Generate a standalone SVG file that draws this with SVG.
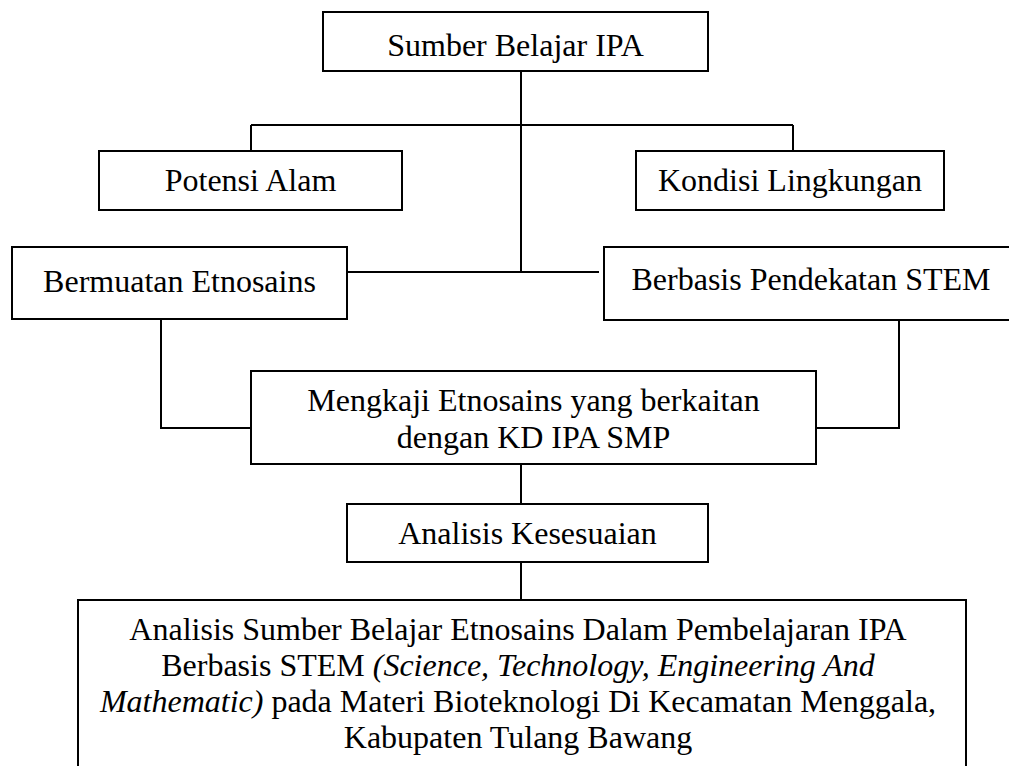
<svg xmlns="http://www.w3.org/2000/svg" width="1009" height="766" viewBox="0 0 1009 766">
<style>
.box{fill:#fff;stroke:#000;stroke-width:2}
.t{font-family:"Liberation Serif","Times New Roman",serif;font-size:32px;fill:#000;text-anchor:middle}
.it{font-style:italic}
.c{fill:none;stroke:#000;stroke-width:2}
</style>
<rect width="1009" height="766" fill="#fff"/>
<g id="connectors">
<line class="c" x1="521" y1="71" x2="521" y2="272"/>
<line class="c" x1="251" y1="125" x2="793" y2="125"/>
<line class="c" x1="251" y1="125" x2="251" y2="151"/>
<line class="c" x1="793" y1="125" x2="793" y2="151"/>
<line class="c" x1="347" y1="272" x2="599" y2="272"/>
<polyline class="c" points="161,319 161,428 251,428"/>
<polyline class="c" points="899,320 899,428 816,428"/>
<line class="c" x1="521" y1="464" x2="521" y2="504"/>
<line class="c" x1="521" y1="562" x2="521" y2="600"/>
</g>
<g id="sumber">
<rect class="box" x="323" y="12" width="385" height="59"/>
<text class="t" x="515.5" y="56">Sumber Belajar IPA</text>
</g>
<g id="potensi">
<rect class="box" x="99" y="151" width="303" height="59"/>
<text class="t" x="250.5" y="191">Potensi Alam</text>
</g>
<g id="kondisi">
<rect class="box" x="636" y="151" width="308" height="59"/>
<text class="t" x="790" y="191">Kondisi Lingkungan</text>
</g>
<g id="bermuatan">
<rect class="box" x="12" y="247" width="335" height="72"/>
<text class="t" x="179.5" y="292">Bermuatan Etnosains</text>
</g>
<g id="berbasis">
<rect class="box" x="604" y="247" width="414" height="73"/>
<text class="t" x="811" y="290">Berbasis Pendekatan STEM</text>
</g>
<g id="mengkaji">
<rect class="box" x="251" y="371" width="565" height="93"/>
<text class="t" x="533.5" y="411">Mengkaji Etnosains yang berkaitan</text>
<text class="t" x="533.5" y="448">dengan KD IPA SMP</text>
</g>
<g id="analisis">
<rect class="box" x="347" y="504" width="361" height="58"/>
<text class="t" x="527.5" y="544">Analisis Kesesuaian</text>
</g>
<g id="judul">
<rect class="box" x="78" y="600" width="888" height="190"/>
<text class="t" x="518" y="640">Analisis Sumber Belajar Etnosains Dalam Pembelajaran IPA</text>
<text class="t" x="518" y="676">Berbasis STEM <tspan class="it">(Science, Technology, Engineering And</tspan></text>
<text class="t" x="518" y="712"><tspan class="it">Mathematic)</tspan> pada Materi Bioteknologi Di Kecamatan Menggala,</text>
<text class="t" x="518" y="748">Kabupaten Tulang Bawang</text>
</g>
</svg>
